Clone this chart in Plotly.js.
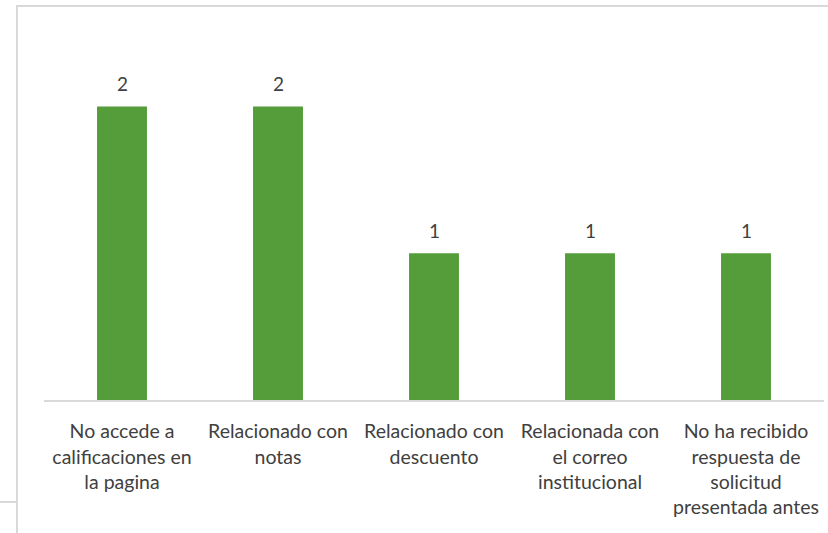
<!DOCTYPE html>
<html>
<head>
<meta charset="utf-8">
<script src="https://cdn.plot.ly/plotly-3.0.1.min.js"></script>
<style>
html,body{margin:0;padding:0;width:828px;height:533px;overflow:hidden;background:#fff;}
#frame{position:absolute;left:16px;top:5px;width:900px;height:700px;border-left:2px solid #d9d9d9;border-top:2px solid #d9d9d9;}
#stub{position:absolute;left:0;top:501px;width:17px;height:2px;background:#d9d9d9;}
#chart{position:absolute;left:0;top:0;width:828px;height:533px;}
</style>
</head>
<body>
<div id="frame"></div>
<div id="stub"></div>
<div id="chart"></div>
<script>
const categories = [
  "No accede a<br>calificaciones en<br>la pagina",
  "Relacionado con<br>notas",
  "Relacionado con<br>descuento",
  "Relacionada con<br>el correo<br>institucional",
  "No ha recibido<br>respuesta de<br>solicitud<br>presentada antes"
];
const values = [2, 2, 1, 1, 1];
const valueLabels = ["2", "2", "1", "1", "1"];

const FONT = 'Lato, "Open Sans", sans-serif';

const trace = {
  type: 'bar',
  x: categories,
  y: values,
  marker: {color: '#549d3a'},
  hoverinfo: 'none'
};

const annotations = categories.map((c, i) => ({
  x: c, y: values[i], xref: 'x', yref: 'y',
  text: valueLabels[i], showarrow: false,
  yanchor: 'middle', yshift: 23,
  font: {family: FONT, size: 19, color: '#404040'}
}));

const layout = {
  width: 828, height: 533,
  margin: {l: 44, r: 4, t: 33, b: 133},
  paper_bgcolor: 'rgba(0,0,0,0)',
  plot_bgcolor: 'rgba(0,0,0,0)',
  bargap: 0.68,
  showlegend: false,
  font: {family: FONT, size: 19.5, color: '#404040'},
  annotations: annotations,
  xaxis: {
    showline: true, linecolor: '#d9d9d9', linewidth: 2,
    ticks: '', showgrid: false, zeroline: false,
    tickfont: {family: FONT, size: 19.5, color: '#404040'},
    tickangle: 0, automargin: false, ticklabelstandoff: 13
  },
  yaxis: {
    range: [0, 2.5], visible: false, showgrid: false, zeroline: false, fixedrange: true
  }
};

Plotly.newPlot('chart', [trace], layout, {staticPlot: true, displayModeBar: false});
</script>
</body>
</html>
